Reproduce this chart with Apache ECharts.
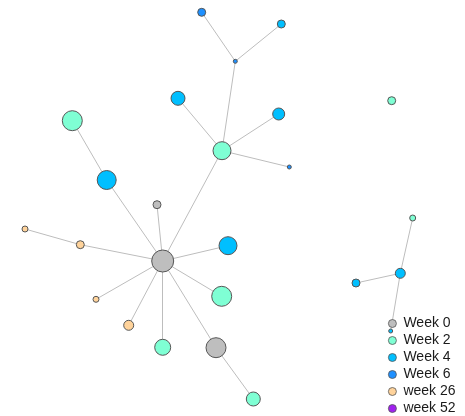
<!DOCTYPE html>
<html><head><meta charset="utf-8">
<script src="https://cdn.jsdelivr.net/npm/echarts@6/dist/echarts.min.js"></script>
<style>html,body{margin:0;padding:0;background:#fff}#c{width:465px;height:416px}</style>
</head><body><div id="c"></div>
<script>
var categories = ['Week 0','Week 2','Week 4','Week 6','week 26','week 52'];
var colors = ['#bebebe','#7fffd4','#00bfff','#1e90ff','#ffd39b','#a020f0'];
var nodeX = [162.7,157,106.7,72.3,222,178,278.7,289.3,235.3,201.7,281.3,228,221.7,216,253.3,162.7,128.7,96,80.3,25,391.7,412.7,400.3,356,390.7];
var nodeY = [261,204.7,180,120.7,150.7,98.3,114,167,61.3,12.3,24,245.7,296.3,347.7,399,347.3,325.3,299.3,244.7,229,100.7,218,273.3,283,331];
var nodeSize = [22,8,19,20,18,14,12,4,4,8,8,18,20,20,14,16,10,6,8,6,8,6,10,8,4];
var nodeCat = [0,0,2,1,1,2,2,3,3,3,2,2,1,0,1,1,4,4,4,4,1,1,2,2,2];
var linkSource = [0,0,2,0,4,4,4,4,8,8,0,0,0,13,0,0,0,0,18,21,22,22];
var linkTarget = [1,2,3,4,5,6,7,8,9,10,11,12,13,14,15,16,17,18,19,22,23,24];

var data = nodeX.map(function(x,i){
  return {name:'n'+i, value:[x,nodeY[i]], symbolSize:nodeSize[i], category:nodeCat[i]};
});
var links = linkSource.map(function(s,i){return {source:s,target:linkTarget[i]};});

var chart = echarts.init(document.getElementById('c'));
chart.setOption({
  animation:false,
  color: colors,
  grid:{left:0,right:0,top:0,bottom:0},
  xAxis:{type:'value',min:0,max:465,show:false},
  yAxis:{type:'value',min:0,max:416,inverse:true,show:false},
  legend:{
    orient:'vertical', left:388, top:316, padding:0,
    itemWidth:12, itemHeight:8, itemGap:2,
    icon:'circle',
    itemStyle:{borderColor:'#555',borderWidth:0.8},
    textStyle:{fontFamily:'Liberation Sans',fontSize:14,lineHeight:15,color:'#1a1a1a'},
    data: categories
  },
  series:[{
    type:'graph', coordinateSystem:'cartesian2d', layout:'none',
    symbol:'circle',
    categories: categories.map(function(c,i){return {name:c, itemStyle:{color:colors[i]}};}),
    itemStyle:{borderColor:'#555',borderWidth:1},
    lineStyle:{color:'#bdbdbd',width:1,opacity:1},
    label:{show:false},
    emphasis:{disabled:true},
    data:data, links:links, z:2
  }]
});
</script></body></html>
